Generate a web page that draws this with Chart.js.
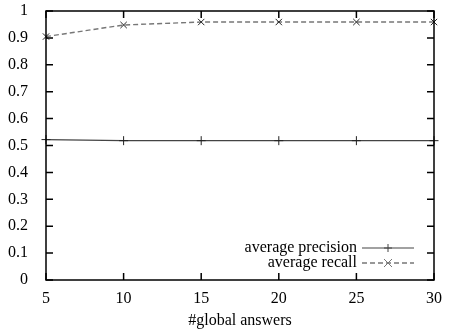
<!DOCTYPE html>
<html>
<head>
<meta charset="utf-8">
<script src="https://cdn.jsdelivr.net/npm/chart.js@4"></script>
<style>
  html, body { margin: 0; padding: 0; background: #fff; }
  #wrap { width: 451px; height: 333px; }
</style>
</head>
<body>
<div id="wrap"><canvas id="c" width="451" height="333"></canvas></div>
<script>
// values
const answers = [5, 10, 15, 20, 25, 30];
const avgPrecision = [0.522, 0.518, 0.518, 0.518, 0.518, 0.518];
const avgRecall = [0.905, 0.948, 0.959, 0.959, 0.959, 0.959];
const xTicks = [5, 10, 15, 20, 25, 30];
const yTicks = [0, 0.1, 0.2, 0.3, 0.4, 0.5, 0.6, 0.7, 0.8, 0.9, 1];

const FONT = '"Liberation Serif", "Times New Roman", serif';

// gnuplot style frame: box + ticks pointing inward on all four sides
const framePlugin = {
    id: 'frame',
    afterDatasetsDraw(chart) {
        const { ctx, chartArea: a, scales } = chart;
        ctx.save();
        ctx.strokeStyle = '#000';
        ctx.lineWidth = 1.5;
        ctx.strokeRect(a.left, a.top, a.right - a.left, a.bottom - a.top);
        ctx.beginPath();
        const len = 7;
        yTicks.forEach(v => {
            const y = scales.y.getPixelForValue(v);
            ctx.moveTo(a.left, y); ctx.lineTo(a.left + len, y);
            ctx.moveTo(a.right, y); ctx.lineTo(a.right - len, y);
        });
        xTicks.forEach(v => {
            const x = scales.x.getPixelForValue(v);
            ctx.moveTo(x, a.bottom); ctx.lineTo(x, a.bottom - len);
            ctx.moveTo(x, a.top); ctx.lineTo(x, a.top + len);
        });
        ctx.stroke();
        ctx.restore();
    }
};

// legend in the lower right corner of the plot
const legendPlugin = {
    id: 'boxLegend',
    afterDatasetsDraw(chart) {
        const { ctx } = chart;
        const textRight = 357, lineL = 362, lineR = 414;
        ctx.save();
        ctx.font = '16px ' + FONT;
        ctx.fillStyle = '#000';
        ctx.textAlign = 'right';
        ctx.textBaseline = 'middle';
        chart.data.datasets.forEach((ds, i) => {
            const y = 248 + i * 15;
            ctx.fillText(ds.label, textRight, y);
            ctx.strokeStyle = ds.borderColor;
            ctx.lineWidth = ds.borderWidth;
            ctx.setLineDash(ds.borderDash || []);
            ctx.beginPath();
            ctx.moveTo(lineL, y); ctx.lineTo(lineR, y);
            ctx.stroke();
            ctx.setLineDash([]);
            const cx = (lineL + lineR) / 2, r = 4;
            ctx.lineWidth = 1;
            ctx.beginPath();
            if (ds.pointStyle === 'cross') {
                ctx.moveTo(cx - r, y); ctx.lineTo(cx + r, y);
                ctx.moveTo(cx, y - r); ctx.lineTo(cx, y + r);
            } else {
                ctx.moveTo(cx - r, y - r); ctx.lineTo(cx + r, y + r);
                ctx.moveTo(cx - r, y + r); ctx.lineTo(cx + r, y - r);
            }
            ctx.stroke();
        });
        ctx.restore();
    }
};

new Chart(document.getElementById('c'), {
    type: 'line',
    data: {
        datasets: [
            {
                label: 'average precision',
                data: answers.map((x, i) => ({ x: x, y: avgPrecision[i] })),
                borderColor: '#444',
                borderWidth: 1.2,
                pointStyle: 'cross',
                pointRadius: 4.5,
                pointBorderColor: '#222',
                pointBorderWidth: 1,
                fill: false,
                tension: 0
            },
            {
                label: 'average recall',
                data: answers.map((x, i) => ({ x: x, y: avgRecall[i] })),
                borderColor: '#777',
                borderWidth: 1.4,
                borderDash: [5, 3],
                pointStyle: 'crossRot',
                pointRadius: 4.5,
                pointBorderColor: '#222',
                pointBorderWidth: 1,
                fill: false,
                tension: 0
            }
        ]
    },
    options: {
        responsive: false,
        animation: false,
        clip: false,
        layout: { padding: { top: 11, right: 17, left: 0, bottom: 0 } },
        plugins: { legend: { display: false }, tooltip: { enabled: false } },
        scales: {
            x: {
                type: 'linear',
                min: 5, max: 30,
                afterBuildTicks: s => { s.ticks = xTicks.map(v => ({ value: v })); },
                afterFit: s => { s.height = 53; s.paddingLeft = 0; s.paddingRight = 0; },
                grid: { display: false },
                border: { display: false },
                ticks: { color: '#000', font: { family: FONT, size: 16 }, padding: 1, maxRotation: 0 },
                title: {
                    display: true,
                    text: '#global answers',
                    color: '#000',
                    font: { family: FONT, size: 16 },
                    padding: { top: 6, bottom: 3 }
                }
            },
            y: {
                min: 0, max: 1,
                afterBuildTicks: s => { s.ticks = yTicks.map(v => ({ value: v })); },
                afterFit: s => { s.width = 46; s.paddingTop = 0; s.paddingBottom = 0; },
                grid: { display: false },
                border: { display: false },
                ticks: {
                    color: '#000',
                    font: { family: FONT, size: 16 },
                    padding: 10,
                    callback: v => String(Math.round(v * 10) / 10)
                }
            }
        }
    },
    plugins: [framePlugin, legendPlugin]
});
</script>
</body>
</html>
